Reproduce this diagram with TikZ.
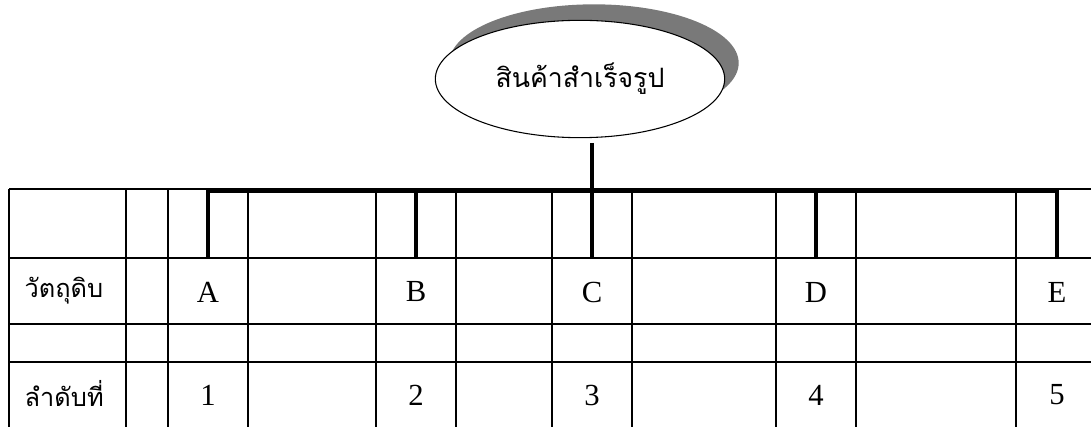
\documentclass[tikz,border=0pt]{standalone}
\usepackage{fontspec}
\setmainfont{Liberation Serif}
\newfontfamily\thaifont[Script=Thai]{Loma}
\usetikzlibrary{positioning,shadows,shapes.geometric}

\begin{document}
\begin{tikzpicture}[x=0.75pt,y=-0.75pt,
tablerule/.style={line width=1pt},
branch/.style={line width=3pt},
product/.style={
  ellipse,
  draw,
  line width=0.8pt,
  fill=white,
  minimum width=217pt,
  minimum height=88pt,
  font={\thaifont\fontsize{20pt}{22pt}\selectfont},
  drop shadow={shadow xshift=10.5pt,shadow yshift=12pt,fill=gray!95!black,opacity=1}},
rowlabel/.style={
  font={\thaifont\fontsize{19pt}{22pt}\selectfont},
  anchor=west},
cell/.style={
  font={\fontsize{23pt}{26pt}\selectfont},
  minimum width=60pt,
  minimum height=49.5pt,
  inner sep=0pt},
]
\useasboundingbox (0,0) rectangle (1091,427);

% table rules
\draw[tablerule] (9,189) -- (1091,189);
\draw[tablerule] (9,258) -- (1091,258);
\draw[tablerule] (9,324) -- (1091,324);
\draw[tablerule] (9,362) -- (1091,362);
\draw[tablerule] (9,189) -- (9,427);
\draw[tablerule] (126,189) -- (126,427);
\draw[tablerule] (168,189) -- (168,427);
\draw[tablerule] (248,189) -- (248,427);
\draw[tablerule] (376,189) -- (376,427);
\draw[tablerule] (456,189) -- (456,427);
\draw[tablerule] (552,189) -- (552,427);
\draw[tablerule] (632,189) -- (632,427);
\draw[tablerule] (776,189) -- (776,427);
\draw[tablerule] (856,189) -- (856,427);
\draw[tablerule] (1016,189) -- (1016,427);

\node[product] (prod) at (580,79) {สินค้าสำเร็จรูป};

\node[rowlabel] (matlabel) at (20,291) {วัตถุดิบ};
\node[rowlabel] (ranklabel) at (20,394) {ลำดับที่};

\node[cell] (matA) at (208,292) {A};
\node[cell] (matB) at (416,292) {B};
\node[cell] (matC) at (592,292) {C};
\node[cell] (matD) at (816,292) {D};
\node[cell] (matE) at (1057,292) {E};

\node[cell] (rank1) at (208,395) {1};
\node[cell] (rank2) at (416,395) {2};
\node[cell] (rank3) at (592,395) {3};
\node[cell] (rank4) at (816,395) {4};
\node[cell] (rank5) at (1057,395) {5};

% tree
\coordinate (stemtop) at (592,143);
\coordinate (hub) at (592,191);
\draw[branch] (stemtop) -- (hub);
\draw[branch] (matA.north) |- (hub) -| (matE.north);
\draw[branch] (hub -| matB) -- (matB.north);
\draw[branch] (hub) -- (matC.north);
\draw[branch] (hub -| matD) -- (matD.north);

\end{tikzpicture}
\end{document}
